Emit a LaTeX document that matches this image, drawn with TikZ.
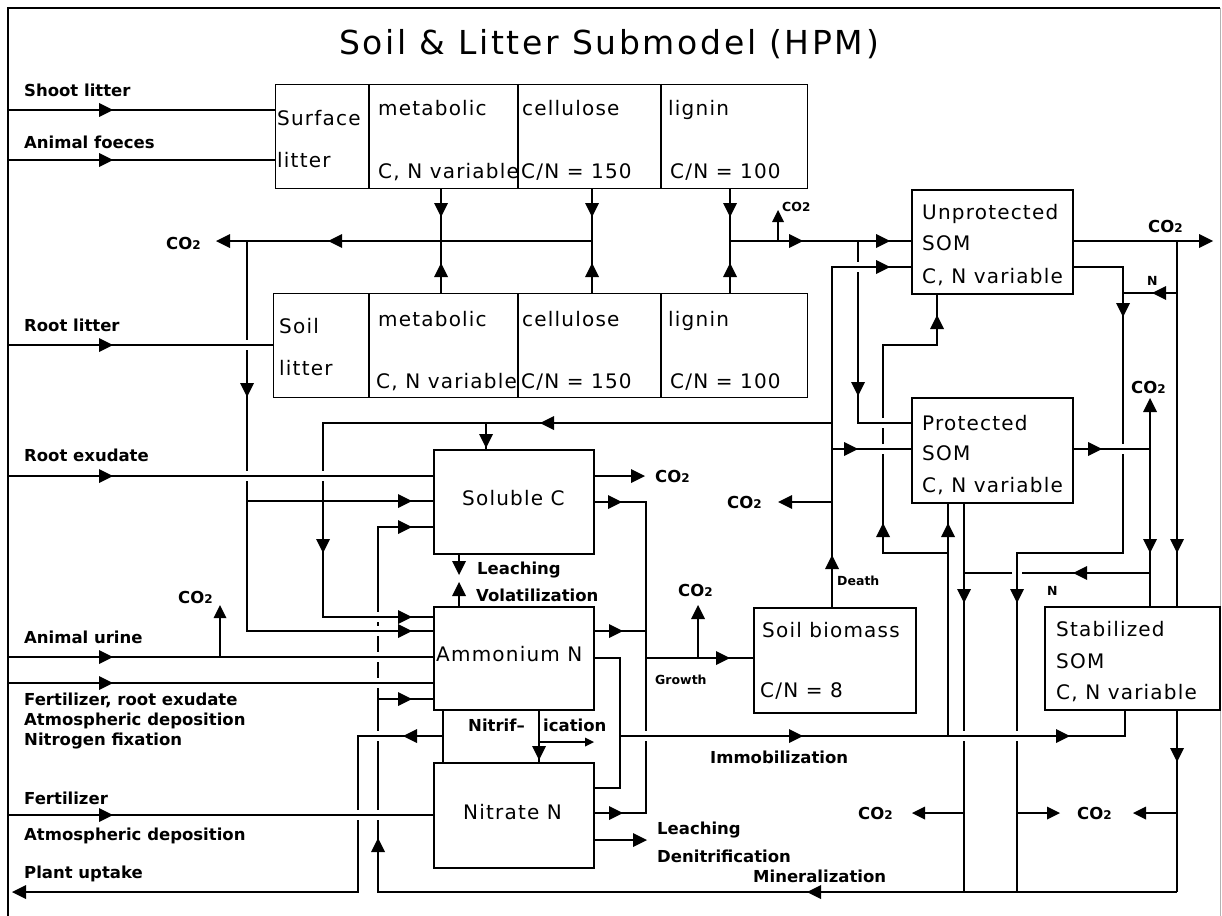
\documentclass[tikz,border=0pt]{standalone}
\usepackage{fontspec}
\setmainfont{DejaVu Sans}
\newfontfamily\bxf[LetterSpace=6]{DejaVu Sans}
\newfontfamily\lbf{DejaVu Sans}
\newfontfamily\ttlf[LetterSpace=8]{DejaVu Sans}
\newcommand\cotwo{CO{\fontsize{12}{12}\selectfont 2}}
\newcommand\ah[3][14]{\fill[shift={(#2)},rotate=#3] (0,0) -- (-#1,{#1/2}) -- (-#1,{-#1/2}) -- cycle;}
\tikzset{
 ln/.style={line width=2.2pt},
 tl/.style={line width=1.1pt},
 bx/.style={draw, line width=2.2pt, inner sep=0pt, anchor=north west},
 bt/.style={anchor=base west, inner sep=0pt, font=\bxf\fontsize{20}{24}\selectfont},
 lt/.style={anchor=base west, inner sep=0pt, font=\lbf\bfseries\fontsize{16.5}{19}\selectfont},
 st/.style={anchor=base west, inner sep=0pt, font=\lbf\bfseries\fontsize{12.5}{15}\selectfont},
}
\begin{document}
\begin{tikzpicture}[x=1pt,y=-1pt]
\useasboundingbox (0,0) rectangle (1222,915);
\fill[white] (0,0) rectangle (1222,915);
% frame
\draw[line width=1.5pt] (8,916) -- (8,8) -- (1220,8);
\draw[line width=1pt, black!30] (1220,8) -- (1220,916);
% title
\node[anchor=base, inner sep=0pt, font=\ttlf\fontsize{33}{36}\selectfont] (title) at (609,55) {Soil \& Litter Submodel (HPM)};

% boxes
\node[bx, line width=1.4pt, minimum width=532pt, minimum height=104pt] (surf) at (275,84) {};
\node[bx, line width=1.4pt, minimum width=534pt, minimum height=104pt] (soil) at (273,293) {};
\foreach \x in {369,518,661} {
  \draw[line width=1.4pt] (surf.north -| \x,0) -- (surf.south -| \x,0);
  \draw[line width=1.4pt] (soil.north -| \x,0) -- (soil.south -| \x,0);
}
\node[bx, minimum width=160pt, minimum height=104pt] (sol) at (433,449) {};
\node[bx, minimum width=160pt, minimum height=103pt] (amm) at (433,606) {};
\node[bx, minimum width=160pt, minimum height=105pt] (nit) at (433,762) {};
\node[bx, minimum width=161pt, minimum height=104pt] (unp) at (911,189) {};
\node[bx, minimum width=161pt, minimum height=105pt] (prot) at (911,397) {};
\node[bx, minimum width=162pt, minimum height=105pt] (bio) at (753,607) {};
\node[bx, minimum width=175pt, minimum height=103pt] (stab) at (1044,606) {};

% external inputs
\draw[ln] (8,110) -- (surf.west |- 0,110); \ah{113,110}{0}
\draw[ln] (8,160) -- (surf.west |- 0,160); \ah{113,160}{0}
\draw[ln] (8,345) -- (soil.west |- 0,345); \ah{113,345}{0}
\draw[ln] (8,476) -- (sol.west |- 0,476); \ah{113,476}{0}
\draw[ln] (8,657) -- (amm.west |- 0,657); \ah{113,657}{0}
\draw[ln] (8,683) -- (amm.west |- 0,683); \ah{113,683}{0}
\draw[tl] (8,815) -- (nit.west |- 0,815); \ah{113,815}{0}
\draw[tl] (220,657) -- (220,608); \ah[13]{220,605}{90}

% litter pools to the y=241 collector
\foreach \x in {441,592,730} {
  \draw[ln] (surf.south -| \x,0) -- (soil.north -| \x,0);
  \ah{\x,217}{270}
  \ah{\x,263}{90}
}
\draw[ln] (592,241) -- (218,241); \ah{216,241}{180} \ah{328,241}{180}
\draw[ln] (730,241) -- (unp.west |- 0,241); \ah{803,241}{0} \ah{890,241}{0}
\draw[tl] (778,241) -- (778,214); \ah[12]{778,210}{90}

% x=247 branch
\draw[ln] (247,241) -- (247,340) (247,350) -- (247,471) (247,481) -- (247,631) -- (amm.west |- 0,631);
\ah{247,397}{270} \ah{412,631}{0}
\draw[ln] (247,501) -- (sol.west |- 0,501); \ah{412,501}{0}

% y=423 line and x=323
\draw[ln] (832,423) -- (323,423) -- (323,471) (323,481) -- (323,617) -- (amm.west |- 0,617);
\ah{540,423}{180} \ah{323,553}{270} \ah{412,617}{0}
\draw[ln] (486,423) -- (sol.north -| 486,0); \ah{486,448}{270}

% leaching / volatilization between soluble C and ammonium
\draw[ln] (sol.south -| 459,0) -- (459,566); \ah{459,575}{270}
\draw[ln] (amm.north -| 459,0) -- (459,590); \ah{459,582}{90}

% x=378 (mineralization return)
\draw[ln] (sol.west |- 0,527) -- (378,527) -- (378,612) (378,622) -- (378,626) (378,636) -- (378,652) (378,662) -- (378,678) (378,688) -- (378,731) (378,741) -- (378,810) (378,820) -- (378,892) -- (1177,892);
\ah{412,527}{0} \ah{378,838}{90} \ah{807,892}{180}
\draw[ln] (378,699) -- (amm.west |- 0,699); \ah{412,699}{0}

% ammonium - nitrate, plant uptake
\draw[ln] (amm.south -| 443,0) -- (nit.north -| 443,0);
\draw[ln] (443,736) -- (358,736) -- (358,810) (358,820) -- (358,892) -- (14,892);
\ah{403,736}{180} \ah{12,892}{180}
\draw[ln] (amm.south -| 539,0) -- (nit.north -| 539,0); \ah{539,760}{270}
\draw[tl] (539,742) -- (588,742); \ah[9]{594,742}{0}

% soluble C outputs and growth collector
\draw[ln] (sol.east |- 0,476) -- (640,476); \ah{645,476}{0}
\draw[ln] (sol.east |- 0,502) -- (646,502) -- (646,731) (646,741) -- (646,813) -- (nit.east |- 0,813);
\ah{622,502}{0} \ah{623,813}{0}
\draw[ln] (amm.east |- 0,631) -- (646,631); \ah{623,631}{0}
\draw[ln] (646,658) -- (bio.west |- 0,658); \ah{730,658}{0}
\draw[ln] (698,658) -- (698,610); \ah{698,605}{90}

% ammonium -> nitrate link and immobilization
\draw[ln] (amm.east |- 0,658) -- (620,658) -- (620,788) -- (nit.east |- 0,788);
\draw[ln] (620,736) -- (1125,736) -- (stab.south -| 1125,0);
\ah{803,736}{0} \ah{1070,736}{0}
\draw[ln] (nit.east |- 0,840) -- (642,840); \ah{647,840}{0}

% immobilization to protected / unprotected
\draw[ln] (948,736) -- (prot.south -| 948,0); \ah{948,523}{90}
\draw[ln] (948,553) -- (883,553) -- (883,454) (883,444) -- (883,428) (883,418) -- (883,345) -- (937,345) -- (unp.south -| 937,0);
\ah{883,523}{90} \ah{937,315}{90}

% death line
\draw[ln] (bio.north -| 832,0) -- (832,267) -- (unp.west |- 0,267);
\ah{832,555}{90} \ah{890,267}{0}
\draw[ln] (832,502) -- (782,502); \ah{778,502}{180}
\draw[ln] (832,449) -- (prot.west |- 0,449); \ah{858,449}{0}
\draw[ln] (858,241) -- (858,262) (858,272) -- (858,423) -- (prot.west |- 0,423); \ah{858,396}{270}

% unprotected outputs
\draw[ln] (unp.east |- 0,241) -- (1208,241); \ah{1213,241}{0}
\draw[ln] (unp.east |- 0,267) -- (1123,267) -- (1123,444) (1123,454) -- (1123,553) -- (1017,553) -- (1017,731) (1017,741) -- (1017,892);
\ah{1123,317}{270} \ah{1017,603}{270}
\draw[tl] (1017,813) -- (1055,813); \ah[13]{1060,813}{0}

% right N / stabilized line x=1177
\draw[tl] (1177,241) -- (stab.north -| 1177,0); \ah{1177,553}{270}
\draw[tl] (1177,293) -- (1123,293); \ah{1152,293}{180}
\draw[tl] (stab.south -| 1177,0) -- (1177,892); \ah{1177,762}{270}
\draw[tl] (1177,813) -- (1138,813); \ah[13]{1133,813}{180}

% protected outputs
\draw[ln] (prot.east |- 0,449) -- (1150,449); \ah{1102,449}{0}
\draw[ln] (1150,402) -- (stab.north -| 1150,0); \ah{1150,398}{90} \ah{1150,553}{270}
\draw[ln] (1150,573) -- (1022,573) (1012,573) -- (964,573); \ah{1073,573}{180}
\draw[ln] (prot.south -| 964,0) -- (964,731) (964,741) -- (964,892); \ah{964,603}{270}
\draw[tl] (964,813) -- (917,813); \ah[13]{912,813}{180}

% box texts
\node[bt] (tsurf1) at (277,125) {Surface};
\node[bt] (tsurf2) at (277,167) {litter};
\node[bt] (tm1) at (378,115) {metabolic};
\node[bt] (tm2) at (378,178) {C, N variable};
\node[bt] (tc1) at (522,115) {cellulose};
\node[bt] (tc2) at (521,178) {C/N = 150};
\node[bt] (tg1) at (668,115) {lignin};
\node[bt] (tg2) at (670,178) {C/N = 100};
\node[bt] (ts1) at (279,333) {Soil};
\node[bt] (ts2) at (279,375) {litter};
\node[bt] (tsm1) at (378,326) {metabolic};
\node[bt] (tsm2) at (376,388) {C, N variable};
\node[bt] (tsc1) at (522,326) {cellulose};
\node[bt] (tsc2) at (521,388) {C/N = 150};
\node[bt] (tsg1) at (668,326) {lignin};
\node[bt] (tsg2) at (670,388) {C/N = 100};
\node[bt] (tu1) at (922,219) {Unprotected};
\node[bt] (tu2) at (922,250) {SOM};
\node[bt] (tu3) at (922,283) {C, N variable};
\node[bt] (tp1) at (922,430) {Protected};
\node[bt] (tp2) at (922,460) {SOM};
\node[bt] (tp3) at (922,492) {C, N variable};
\node[bt] (tst1) at (1056,636) {Stabilized};
\node[bt] (tst2) at (1056,668) {SOM};
\node[bt] (tst3) at (1056,699) {C, N variable};
\node[bt] (tb1) at (762,637) {Soil biomass};
\node[bt] (tb2) at (760,697) {C/N = 8};
\node[bt] (tsol) at (462,505) {Soluble C};
\node[bt] (tamm) at (436,661) {Ammonium N};
\node[bt] (tnit) at (463,819) {Nitrate N};

% flow labels
\node[lt] (lshoot) at (24,96) {Shoot litter};
\node[lt] (lfaec) at (24,148) {Animal foeces};
\node[lt] (lco2a) at (166,249) {\cotwo};
\node[lt] (lroot) at (24,331) {Root litter};
\node[lt] (lexud) at (24,461) {Root exudate};
\node[lt] (lco2b) at (178,603) {\cotwo};
\node[lt] (lurine) at (24,643) {Animal urine};
\node[lt] (lfert1) at (24,705) {Fertilizer, root exudate};
\node[lt] (latm1) at (24,725) {Atmospheric deposition};
\node[lt] (lnfix) at (24,745) {Nitrogen fixation};
\node[lt] (lfert2) at (24,804) {Fertilizer};
\node[lt] (latm2) at (24,840) {Atmospheric deposition};
\node[lt] (lplant) at (24,878) {Plant uptake};
\node[lt] (lleach1) at (477,574) {Leaching};
\node[lt] (lvol) at (476,601) {Volatilization};
\node[lt] (lco2c) at (655,482) {\cotwo};
\node[lt] (lco2d) at (727,508) {\cotwo};
\node[lt] (lco2e) at (678,596) {\cotwo};
\node[st] (lgrowth) at (655,684) {Growth};
\node[st] (ldeath) at (837,585) {Death};
\node[st] (lnA) at (1047,595) {N};
\node[st] (lnB) at (1147,285) {N};
\node[lt] (lco2f) at (1148,232) {\cotwo};
\node[lt] (lco2g) at (1131,393) {\cotwo};
\node[st] (lco2h) at (782,211) {\cotwo};
\node[lt] (lnitr1) at (468,731) {Nitrif–};
\node[lt] (lnitr2) at (543,731) {ication};
\node[lt] (limm) at (710,763) {Immobilization};
\node[lt] (lleach2) at (657,834) {Leaching};
\node[lt] (ldenit) at (657,862) {Denitrification};
\node[lt] (lmin) at (753,882) {Mineralization};
\node[lt] (lco2i) at (858,819) {\cotwo};
\node[lt] (lco2j) at (1077,819) {\cotwo};
\end{tikzpicture}
\end{document}
